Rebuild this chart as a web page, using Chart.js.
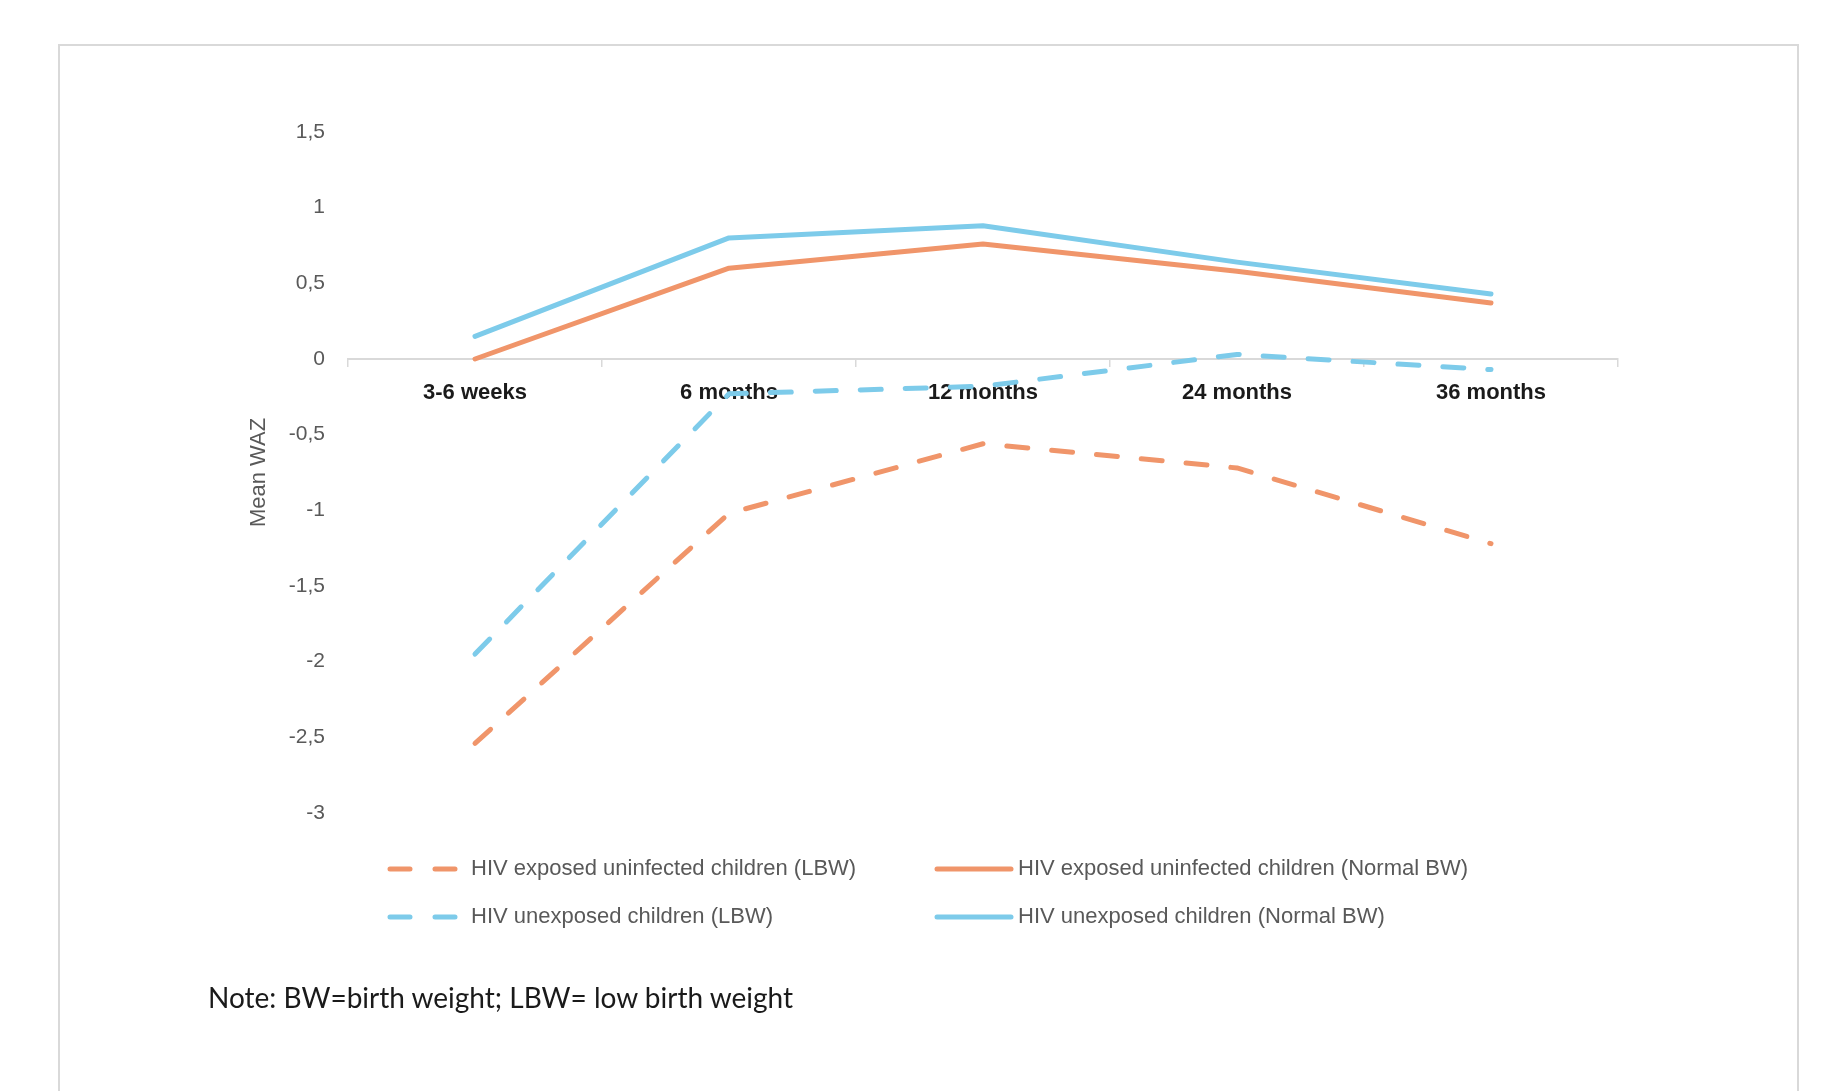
<!DOCTYPE html>
<html>
<head>
<meta charset="utf-8">
<script src="https://cdn.jsdelivr.net/npm/chart.js@4/dist/chart.umd.min.js"></script>
<style>
  body { margin: 0; background: #fff; overflow: hidden; }
  #frame { position: absolute; left: 58px; top: 44px; width: 1741px; height: 1100px; border: 2px solid #d9d9d9; box-sizing: border-box; }
  #wrap { position: absolute; left: 0; top: 0; width: 1832px; height: 1091px; }
  #note { position: absolute; left: 208px; top: 980px; font-family: Lato, "Open Sans", sans-serif; font-size: 28px; color: #1a1a1a; }
</style>
</head>
<body>
<div id="frame"></div>
<div id="wrap"><canvas id="myChart"></canvas></div>
<div id="note">Note: BW=birth weight; LBW= low birth weight</div>
<script>
// categories
const labels = ["3-6 weeks", "6 months", "12 months", "24 months", "36 months"];

// series (mean WAZ)
const heuLbw = [-2.54, -1.02, -0.56, -0.72, -1.22];
const heuNormal = [0.0, 0.60, 0.76, 0.58, 0.37];
const huLbw = [-1.95, -0.23, -0.18, 0.03, -0.07];
const huNormal = [0.15, 0.80, 0.88, 0.64, 0.43];

const seriesNames = [
  "HIV exposed uninfected children (LBW)",
  "HIV exposed uninfected children (Normal BW)",
  "HIV unexposed children (LBW)",
  "HIV unexposed children (Normal BW)",
];

const orange = "#F0956A";
const blue = "#7DCBEA";
const dash = [21, 24];

function line(label, data, color, dashed) {
  return {
    label: label,
    data: data,
    borderColor: color,
    backgroundColor: color,
    borderWidth: 5,
    borderDash: dashed ? dash : [],
    borderCapStyle: "round",
    borderJoinStyle: "round",
    tension: 0,
    pointRadius: 0,
    fill: false,
  };
}

// legend in two columns, like the Excel one
const gridLegend = {
  id: "gridLegend",
  afterDraw(chart) {
    const ctx = chart.ctx;
    const lineStart = [390, 937];
    const lineEnd = [455, 1011];
    const textX = [471, 1018];
    const rowY = [869, 917];
    chart.data.datasets.forEach((ds, i) => {
      const col = i % 2;
      const row = Math.floor(i / 2);
      const y = rowY[row];
      ctx.save();
      ctx.strokeStyle = ds.borderColor;
      ctx.lineWidth = 5;
      ctx.lineCap = "round";
      ctx.setLineDash(ds.borderDash.length ? [20, 25] : []);
      ctx.beginPath();
      ctx.moveTo(lineStart[col], y);
      ctx.lineTo(lineEnd[col], y);
      ctx.stroke();
      ctx.setLineDash([]);
      ctx.fillStyle = "#595959";
      ctx.font = "22px 'Liberation Sans', Arial, sans-serif";
      ctx.textBaseline = "middle";
      ctx.textAlign = "left";
      ctx.fillText(ds.label, textX[col], y);
      ctx.restore();
    });
  },
};

const data = {
  labels: labels,
  datasets: [
    line(seriesNames[0], heuLbw, orange, true),
    line(seriesNames[1], heuNormal, orange, false),
    line(seriesNames[2], huLbw, blue, true),
    line(seriesNames[3], huNormal, blue, false),
  ],
};

const config = {
  type: "line",
  data: data,
  options: {
    responsive: true,
    maintainAspectRatio: false,
    animation: false,
    layout: { padding: { left: 230, right: 214, top: 132, bottom: 278 } },
    plugins: {
      legend: { display: false },
      title: { display: false },
      tooltip: { enabled: false },
    },
    scales: {
      x: {
        position: { y: 0 },
        offset: true,
        grid: {
          offset: true,
          drawOnChartArea: false,
          drawTicks: true,
          tickLength: 7,
          color: "#d9d9d9",
          lineWidth: 1.5,
        },
        border: { display: true, color: "#d9d9d9", width: 2 },
        ticks: {
          color: "#1a1a1a",
          padding: 14,
          maxRotation: 0,
          font: { family: "'Liberation Sans', Arial, sans-serif", size: 22, weight: "bold" },
        },
      },
      y: {
        min: -3,
        max: 1.5,
        afterFit: (scale) => { scale.width = 118; },
        grid: { display: false, drawTicks: false },
        border: { display: false },
        ticks: {
          stepSize: 0.5,
          padding: 23,
          color: "#595959",
          font: { family: "'Liberation Sans', Arial, sans-serif", size: 21 },
          callback: (v) => String(v).replace(".", ","),
        },
        title: {
          display: true,
          text: "Mean WAZ",
          color: "#595959",
          padding: { top: 16, bottom: 0 },
          font: { family: "'Liberation Sans', Arial, sans-serif", size: 22 },
        },
      },
    },
  },
  plugins: [gridLegend],
};

var myChart = new Chart(document.getElementById("myChart"), config);
</script>
</body>
</html>
